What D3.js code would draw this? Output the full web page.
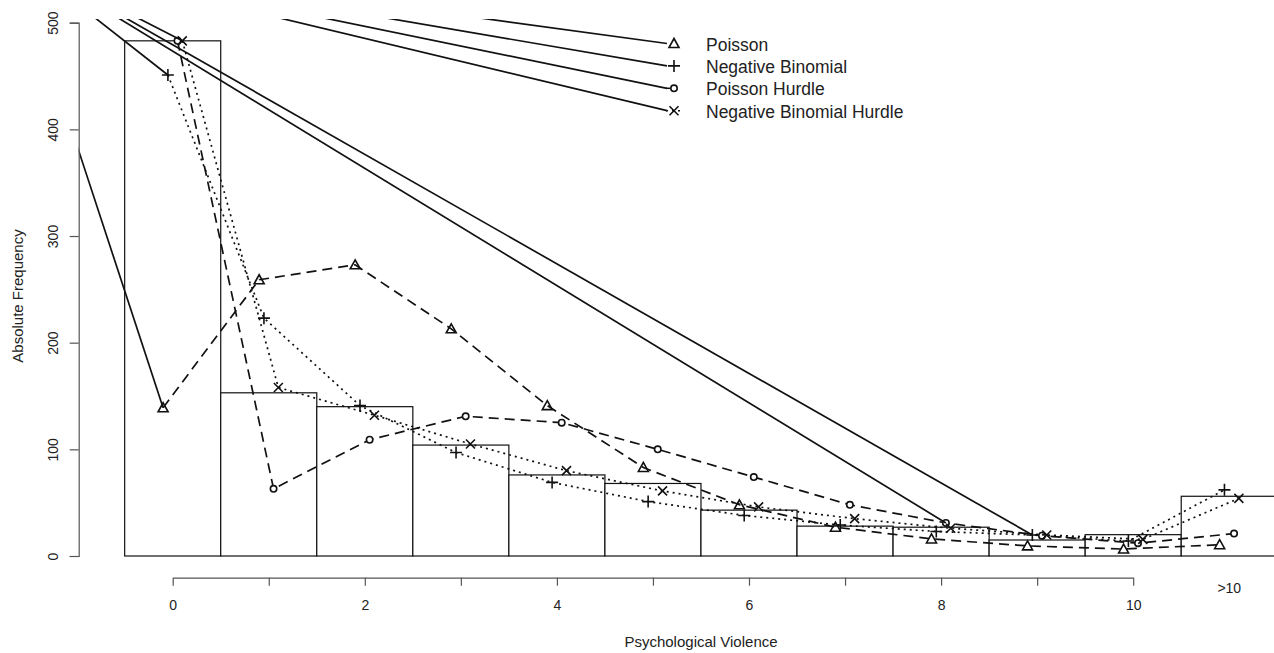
<!DOCTYPE html>
<html>
<head>
<meta charset="utf-8">
<script src="https://cdn.jsdelivr.net/npm/d3@7"></script>
<style>
	body { margin: 0; background: #fff; }
	svg text { font-family: 'Liberation Sans', Arial, Helvetica, sans-serif; fill: #222; }
</style>
</head>
<body>
<script>
const w = 1274;
const h = 653;

// bins 0..10 plus the ">10" class
const bins = [ 0, 1, 2, 3, 4, 5, 6, 7, 8, 9, 10, 11 ];
const xTicks = [ 0, 1, 2, 3, 4, 5, 6, 7, 8, 9, 10 ];
const xTickLabels = [ '0', '', '2', '', '4', '', '6', '', '8', '', '10' ];
const yTicks = [ 0, 100, 200, 300, 400, 500 ];

const observed = [ 483, 153, 140, 104, 76, 68, 43, 28, 27, 15, 20, 56 ];
const poisson = [ 139, 259, 273, 213, 141, 83, 48, 27, 16, 9.5, 6.5, 10.6 ];
const negBinomial = [ 451, 223, 141, 97, 69, 51, 38, 29, 23, 19.7, 14, 62 ];
const poissonHurdle = [ 483, 63, 109, 131, 125, 100, 74, 48, 31, 19, 12, 21 ];
const negBinomialHurdle = [ 483, 158, 132, 105, 80, 61, 46, 35, 26, 19.7, 15.6, 54 ];

const seriesNames = [ 'Poisson', 'Negative Binomial', 'Poisson Hurdle', 'Negative Binomial Hurdle' ];

// the stray solid segments all start from one point far up-left (data units)
const strayOrigin = [ -1.65, 564 ];
const strayTargets = [
	[ 'Poisson', 0 ],
	[ 'Negative Binomial', 0 ],
	[ 'Negative Binomial Hurdle', 0 ],
	[ 'Poisson Hurdle', 8 ],
	[ 'Negative Binomial', 9 ]
];

const series = [
	{ name: seriesNames[0], values: poisson, offset: -0.1, dash: '10,6', shape: 'tri' },
	{ name: seriesNames[1], values: negBinomial, offset: -0.05, dash: '2,4', shape: 'plus' },
	{ name: seriesNames[2], values: poissonHurdle, offset: 0.05, dash: '10,6', shape: 'circle' },
	{ name: seriesNames[3], values: negBinomialHurdle, offset: 0.1, dash: '2,4', shape: 'cross' }
];

let x = d3.scaleLinear().domain([ 0, 10 ]).range([ 172.7, 1133.2 ]);
let y = d3.scaleLinear().domain([ 0, 500 ]).range([ 556, 22.7 ]);

let svg = d3.select('body').append('svg').attr('width', w).attr('height', h);

svg
	.append('clipPath')
	.attr('id', 'plotclip')
	.append('rect')
	.attr('x', 78.7)
	.attr('y', 19)
	.attr('width', w)
	.attr('height', 539);

const plot = svg.append('g').attr('clip-path', 'url(#plotclip)');

// observed frequencies as bars
plot
	.selectAll('.bar')
	.data(bins)
	.enter()
	.append('rect')
	.attr('class', 'bar')
	.attr('x', function(d) {
		return x(d - 0.5);
	})
	.attr('width', function(d) {
		return x(d + 0.5) - x(d - 0.5);
	})
	.attr('y', function(d, i) {
		return y(observed[i]);
	})
	.attr('height', function(d, i) {
		return y(0) - y(observed[i]);
	})
	.attr('fill', 'white')
	.attr('stroke', '#111')
	.attr('stroke-width', 1.2);

function markerPath(shape) {
	if (shape === 'tri') return 'M0,-5L5,4L-5,4Z';
	if (shape === 'plus') return 'M-6,0H6M0,-6V6';
	if (shape === 'cross') return 'M-4.5,-4.5L4.5,4.5M-4.5,4.5L4.5,-4.5';
	return d3.arc()({ innerRadius: 0, outerRadius: 3.2, startAngle: 0, endAngle: 2 * Math.PI });
}

series.forEach(function(s) {
	const line = d3
		.line()
		.x(function(d, i) {
			return x(bins[i] + s.offset);
		})
		.y(function(d) {
			return y(d);
		});

	plot
		.append('path')
		.attr('d', line(s.values))
		.attr('fill', 'none')
		.attr('stroke', '#111')
		.attr('stroke-width', 1.7)
		.attr('stroke-dasharray', s.dash);

	plot
		.selectAll('.pt-' + s.shape)
		.data(s.values)
		.enter()
		.append('path')
		.attr('class', 'pt-' + s.shape)
		.attr('transform', function(d, i) {
			return 'translate(' + x(bins[i] + s.offset) + ',' + y(d) + ')';
		})
		.attr('d', markerPath(s.shape))
		.attr('fill', s.shape === 'circle' ? 'white' : 'none')
		.attr('stroke', '#111')
		.attr('stroke-width', 1.6);
});

// solid stray segments into the plot
plot
	.selectAll('.stray')
	.data(strayTargets)
	.enter()
	.append('line')
	.attr('class', 'stray')
	.attr('x1', x(strayOrigin[0]))
	.attr('y1', y(strayOrigin[1]))
	.attr('x2', function(d) {
		const s = series.find(function(e) {
			return e.name === d[0];
		});
		return x(d[1] + s.offset);
	})
	.attr('y2', function(d) {
		const s = series.find(function(e) {
			return e.name === d[0];
		});
		return y(s.values[d[1]]);
	})
	.attr('stroke', '#111')
	.attr('stroke-width', 1.7);

// legend
const legX = 674;
const legY = 43.5;
const legStep = 22.4;

series.forEach(function(s, i) {
	const ly = legY + i * legStep;
	plot
		.append('line')
		.attr('x1', x(strayOrigin[0]))
		.attr('y1', y(strayOrigin[1]))
		.attr('x2', legX - 7)
		.attr('y2', ly)
		.attr('stroke', '#111')
		.attr('stroke-width', 1.7);
	if (s.shape === 'circle' || s.shape === 'cross') {
		svg
			.append('line')
			.attr('x1', legX - 8)
			.attr('x2', legX + 8)
			.attr('y1', ly)
			.attr('y2', ly)
			.attr('stroke', '#111')
			.attr('stroke-width', 1.5)
			.attr('stroke-dasharray', s.shape === 'circle' ? '4,12' : '2,4');
	}
	svg
		.append('path')
		.attr('transform', 'translate(' + legX + ',' + ly + ')')
		.attr('d', markerPath(s.shape))
		.attr('fill', s.shape === 'circle' ? 'white' : 'none')
		.attr('stroke', '#111')
		.attr('stroke-width', 1.6);
	svg
		.append('text')
		.attr('x', legX + 32)
		.attr('y', ly + 1)
		.attr('dominant-baseline', 'central')
		.style('font-size', '17.5px')
		.text(s.name);
});

// y axis
const yAxis = d3.axisLeft(y).tickValues(yTicks).tickSize(9).tickFormat(d3.format('d'));
const yg = svg.append('g').attr('transform', 'translate(78.7,0)').call(yAxis);
yg.select('.domain').attr('stroke', '#555').attr('stroke-width', 1.2);
yg.selectAll('.tick line').attr('stroke', '#555').attr('stroke-width', 1.2);
yg
	.selectAll('.tick text')
	.attr('transform', 'rotate(-90)')
	.attr('x', 0)
	.attr('y', -26)
	.attr('dy', '0.35em')
	.attr('text-anchor', 'middle')
	.style('font-size', '14px')
	.style('fill', '#222');

// x axis, drawn below the plot
const xAxis = d3
	.axisBottom(x)
	.tickValues(xTicks)
	.tickSize(8)
	.tickSizeOuter(0)
	.tickFormat(function(d, i) {
		return xTickLabels[i];
	});
const xg = svg.append('g').attr('transform', 'translate(0,577.7)').call(xAxis);
xg.select('.domain').attr('stroke', '#555').attr('stroke-width', 1.2);
xg.selectAll('.tick line').attr('stroke', '#555').attr('stroke-width', 1.2);
xg.selectAll('.tick text').attr('y', 27).attr('dy', '0.35em').style('font-size', '14px').style('fill', '#222');

svg
	.append('text')
	.attr('x', x(11))
	.attr('y', 588)
	.attr('dominant-baseline', 'central')
	.attr('text-anchor', 'middle')
	.style('font-size', '14px')
	.text('>10');

svg
	.append('text')
	.attr('x', 701)
	.attr('y', 641)
	.attr('dominant-baseline', 'central')
	.attr('text-anchor', 'middle')
	.style('font-size', '15px')
	.text('Psychological Violence');

svg
	.append('text')
	.attr('transform', 'translate(17.5,296) rotate(-90)')
	.attr('dominant-baseline', 'central')
	.attr('text-anchor', 'middle')
	.style('font-size', '15px')
	.text('Absolute Frequency');
</script>
</body>
</html>
